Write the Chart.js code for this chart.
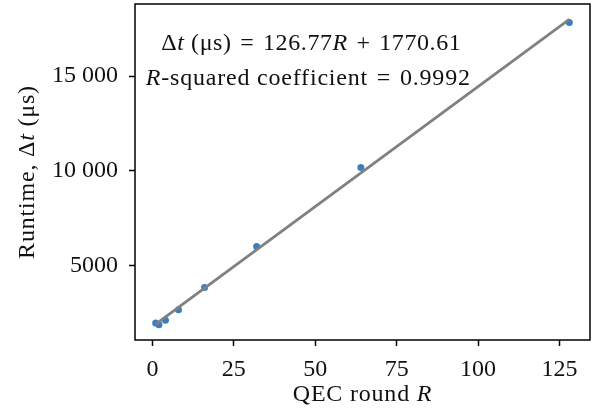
<!DOCTYPE html>
<html>
<head>
<meta charset="utf-8">
<script src="https://cdn.jsdelivr.net/npm/chart.js@4"></script>
<style>
html,body{margin:0;padding:0;background:#fff;}
#wrap{width:595px;height:410px;position:relative;}
</style>
</head>
<body>
<div id="wrap"><canvas id="c"></canvas></div>
<script>
// ---- data ----
const rounds = [1, 2, 4, 8, 16, 32, 64, 128];
const runtimes = [1950, 1860, 2100, 2650, 3830, 5990, 10160, 17830];
const fitSlope = 126.77;
const fitIntercept = 1770.61;
const rSquared = 0.9992;
const xTicks = [0, 25, 50, 75, 100, 125];
const yTicks = [5000, 10000, 15000];
const yTickLabels = ['5000', '10 000', '15 000'];

const FONT = 'Liberation Serif';
const FS = 24;

const scatterData = rounds.map((r, i) => ({x: r, y: runtimes[i]}));
const fitX = [rounds[0], rounds[rounds.length - 1]];
const fitData = fitX.map(r => ({x: r, y: fitSlope * r + fitIntercept}));

// matplotlib-like 5% margins
function limits(vals) {
  const lo = Math.min(...vals), hi = Math.max(...vals), m = (hi - lo) * 0.05;
  return [lo - m, hi + m];
}
const [xMin, xMax] = limits(rounds);
const [yMin, yMax] = limits(runtimes.concat(fitData.map(p => p.y)));

function drawRich(ctx, segs, x, y, align, spacing) {
  ctx.letterSpacing = (spacing || 0) + 'px';
  let w = 0;
  segs.forEach(s => { ctx.font = (s.i ? 'italic ' : '') + FS + 'px "' + FONT + '"'; w += ctx.measureText(s.t).width; });
  let cx = align === 'center' ? x - w / 2 : x;
  ctx.textAlign = 'left';
  ctx.textBaseline = 'alphabetic';
  segs.forEach(s => {
    ctx.font = (s.i ? 'italic ' : '') + FS + 'px "' + FONT + '"';
    ctx.fillText(s.t, cx, y);
    cx += ctx.measureText(s.t).width;
  });
  ctx.letterSpacing = '0px';
}

const decor = {
  id: 'decor',
  afterDraw(chart) {
    const ctx = chart.ctx, a = chart.chartArea;
    ctx.save();
    ctx.strokeStyle = '#000';
    ctx.lineWidth = 1.5;
    ctx.strokeRect(a.left, a.top, a.right - a.left, a.bottom - a.top);
    ctx.fillStyle = '#111';
    const cx = a.left + (a.right - a.left) * 0.383;
    const sp = '\u2004';
    drawRich(ctx, [{t: 'Δ'}, {t: 't', i: true}, {t: ' (μs)' + sp + '=' + sp + '126.77'}, {t: 'R', i: true}, {t: sp + '+' + sp + '1770.61'}], cx + 2, a.top + 46, 'center', 0.6);
    drawRich(ctx, [{t: 'R', i: true}, {t: '-squared coefficient' + sp + '=' + sp + rSquared.toFixed(4)}], cx - 1, a.top + 81, 'center', 0.8);
    // axis titles
    drawRich(ctx, [{t: 'QEC round '}, {t: 'R', i: true}], (a.left + a.right) / 2, 401, 'center', 0.8);
    ctx.translate(34, (a.top + a.bottom) / 2);
    ctx.rotate(-Math.PI / 2);
    drawRich(ctx, [{t: 'Runtime, Δ'}, {t: 't', i: true}, {t: ' (μs)'}], 0, 0, 'center', 0.8);
    ctx.restore();
  }
};

function noPad(s) { s.paddingTop = 0; s.paddingBottom = 0; s.paddingLeft = 0; s.paddingRight = 0; }

new Chart(document.getElementById('c'), {
  type: 'scatter',
  data: {
    datasets: [
      {type: 'line', data: fitData, borderColor: '#808080', borderWidth: 2.8, pointRadius: 0, fill: false, order: 0},
      {type: 'scatter', data: scatterData, backgroundColor: '#3b7dc0', borderWidth: 0, pointRadius: 3.5, order: 1}
    ]
  },
  options: {
    responsive: true,
    maintainAspectRatio: false,
    animation: false,
    layout: {padding: {left: 0, top: 4, right: 5, bottom: 0}},
    plugins: {legend: {display: false}, tooltip: {enabled: false}},
    scales: {
      x: {
        type: 'linear', min: xMin, max: xMax,
        afterBuildTicks: s => { s.ticks = xTicks.map(v => ({value: v})); },
        afterFit: s => { s.height = 70; noPad(s); },
        grid: {drawOnChartArea: false, drawTicks: true, tickLength: 6, tickWidth: 1.5, tickColor: '#000'},
        border: {display: false},
        ticks: {color: '#111', font: {family: FONT, size: FS}, padding: 9, maxRotation: 0, autoSkip: false}
      },
      y: {
        type: 'linear', min: yMin, max: yMax,
        afterBuildTicks: s => { s.ticks = yTicks.map(v => ({value: v})); },
        afterFit: s => { s.width = 135; noPad(s); },
        grid: {drawOnChartArea: false, drawTicks: true, tickLength: 6, tickWidth: 1.5, tickColor: '#000'},
        border: {display: false},
        ticks: {color: '#111', font: {family: FONT, size: FS}, padding: 11, autoSkip: false,
          callback: v => { const i = yTicks.indexOf(v); return i >= 0 ? yTickLabels[i] : ''; }}
      }
    }
  },
  plugins: [decor]
});
</script>
</body>
</html>
